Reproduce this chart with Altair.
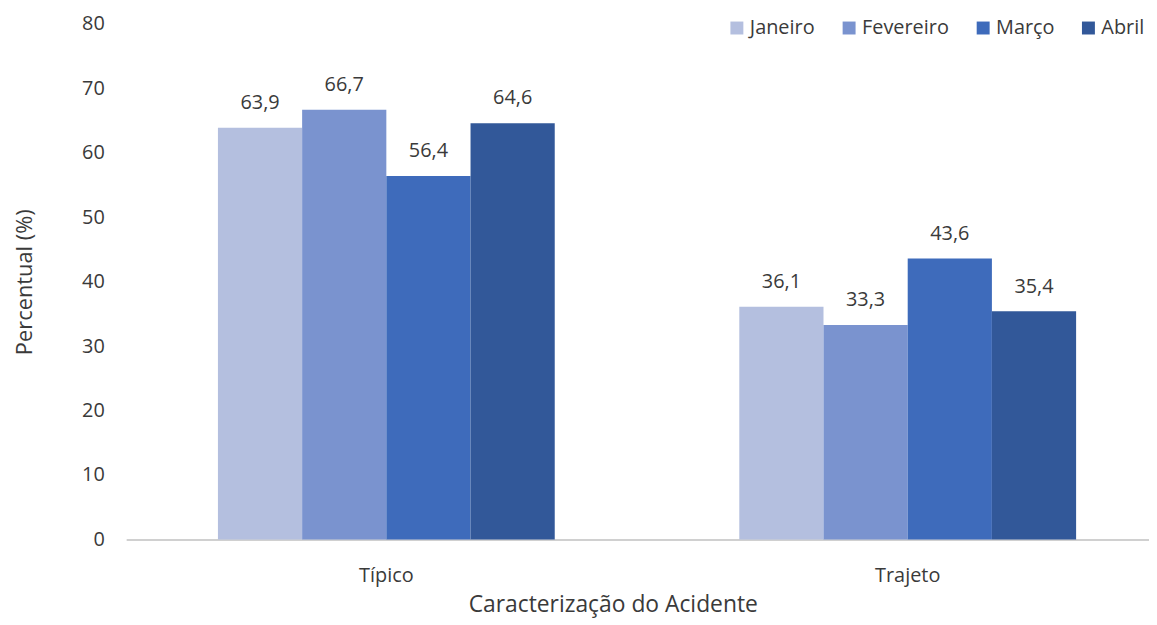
import altair as alt
import pandas as pd

categories = ["Típico", "Trajeto"]
months = ["Janeiro", "Fevereiro", "Março", "Abril"]
tipico = [63.9, 66.7, 56.4, 64.6]
trajeto = [36.1, 33.3, 43.6, 35.4]
colors = ["#B4BFDF", "#7A93CF", "#3E6BBB", "#325899"]

rows = []
for cat, vals in zip(categories, [tipico, trajeto]):
    for m, v in zip(months, vals):
        rows.append({"cat": cat, "mes": m, "val": v, "lbl": f"{v:.1f}".replace(".", ",")})
df = pd.DataFrame(rows)

FONT = "Open Sans"
TXT = "#3A3A3A"

base = alt.Chart(df).encode(
    x=alt.X("cat:N", sort=categories,
            scale=alt.Scale(range=[0, 1049], paddingInner=0.354, paddingOuter=0.176),
            axis=alt.Axis(title="Caracterização do Acidente", labelAngle=0, ticks=False,
                          domainColor="#D0D0D0", domainWidth=2, labelFontSize=20,
                          labelPadding=26, titleFontSize=23, titlePadding=9, titleX=490,
                          labelColor=TXT, titleColor=TXT, titleFontWeight="normal",
                          labelFont=FONT, titleFont=FONT)),
    xOffset=alt.XOffset("mes:N", sort=months, scale=alt.Scale(paddingInner=0, paddingOuter=0)),
)

bars = base.mark_bar().encode(
    y=alt.Y("val:Q", scale=alt.Scale(domain=[0, 80]),
            axis=alt.Axis(title="Percentual (%)", values=list(range(0, 81, 10)), grid=False,
                          domain=False, ticks=False, labelFontSize=20, labelPadding=22,
                          titleFontSize=22, titlePadding=45, labelColor=TXT, titleColor=TXT,
                          titleFontWeight="normal", labelFont=FONT, titleFont=FONT)),
    color=alt.Color("mes:N", sort=months, scale=alt.Scale(domain=months, range=colors),
                    legend=alt.Legend(title=None, orient="none", direction="horizontal",
                                      legendX=605, legendY=-6, symbolType="square",
                                      symbolSize=170, symbolStrokeWidth=0, labelFontSize=20,
                                      labelFont=FONT, labelColor=TXT, columnPadding=24,
                                      labelOffset=3)),
)

labels = base.mark_text(dy=-25, fontSize=20, font=FONT, color=TXT).encode(
    y=alt.Y("val:Q"),
    text="lbl:N",
)

chart = (bars + labels).properties(
    width=1030, height=519,
    autosize=alt.AutoSizeParams(type="none"),
    padding={"left": 119, "top": 14, "right": 0, "bottom": 82},
).configure_view(stroke=None)

chart.save("out.html", embed_options={"renderer": "svg", "actions": False})
